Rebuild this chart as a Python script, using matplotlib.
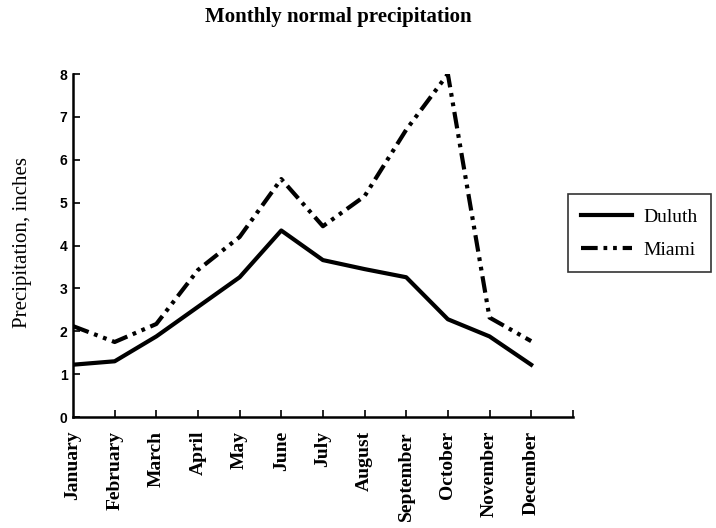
import numpy as np
import matplotlib
matplotlib.use("Agg")
import matplotlib.pyplot as plt

# Monthly normal precipitation, inches
months = ["January", "February", "March", "April", "May", "June", "July",
          "August", "September", "October", "November", "December"]
duluth = [1.22, 1.30, 1.88, 2.57, 3.26, 4.35, 3.66, 3.45, 3.26, 2.28, 1.88, 1.22]
miami = [2.12, 1.75, 2.17, 3.43, 4.20, 5.55, 4.45, 5.15, 6.70, 8.00, 2.32, 1.77]
y_ticks = [0, 1, 2, 3, 4, 5, 6, 7, 8]

serif = "Liberation Serif"

fig = plt.figure(figsize=(7.16, 5.28), dpi=100)
ax = fig.add_axes([0.102, 0.2102, 0.698, 0.6496])

x = np.arange(len(months))
ax.plot(x, duluth, color="black", linewidth=3.0, label="Duluth")
ax.plot(x, miami, color="black", linewidth=3.0,
        linestyle=(0, (4.0, 1.4, 0.9, 1.4, 0.9, 1.4)), label="Miami")

ax.set_xlim(0, 12)
ax.set_ylim(0, 8)

# month names sit under the points, tick marks go one step to the right
ax.xaxis.remove_overlapping_locs = False
ax.set_xticks(x)
ax.set_xticklabels(months, rotation=90, family=serif,
                   fontsize=14, fontweight="bold")
ax.tick_params(axis="x", which="major", length=0, pad=10)
ax.set_xticks(np.arange(1, 13), minor=True)
ax.tick_params(axis="x", which="minor", direction="in", length=5, width=1.2)

ax.set_yticks(y_ticks)
ax.set_yticklabels([str(v) for v in y_ticks], family="Liberation Sans",
                   fontsize=10, fontweight="bold")
ax.tick_params(axis="y", direction="in", length=5, width=1.2, pad=4)

for side in ("top", "right"):
    ax.spines[side].set_visible(False)
for side in ("left", "bottom"):
    ax.spines[side].set_linewidth(1.8)

ax.set_ylabel("Precipitation, inches", family=serif, fontsize=15)
ax.yaxis.set_label_coords(-0.083, 0.51)
fig.suptitle("Monthly normal precipitation", family=serif, fontsize=15,
             fontweight="bold", x=0.472, y=0.968, va="center")

leg = ax.legend(loc="upper left", bbox_to_anchor=(0.793, 0.632),
                bbox_transform=fig.transFigure, frameon=True, fancybox=False,
                prop={"family": serif, "size": 14}, handlelength=2.6,
                handletextpad=0.6, borderpad=0.7, labelspacing=0.8,
                borderaxespad=0)
leg.get_frame().set_edgecolor("black")
leg.get_frame().set_linewidth(1.2)

fig.savefig("out.png", dpi=100)
